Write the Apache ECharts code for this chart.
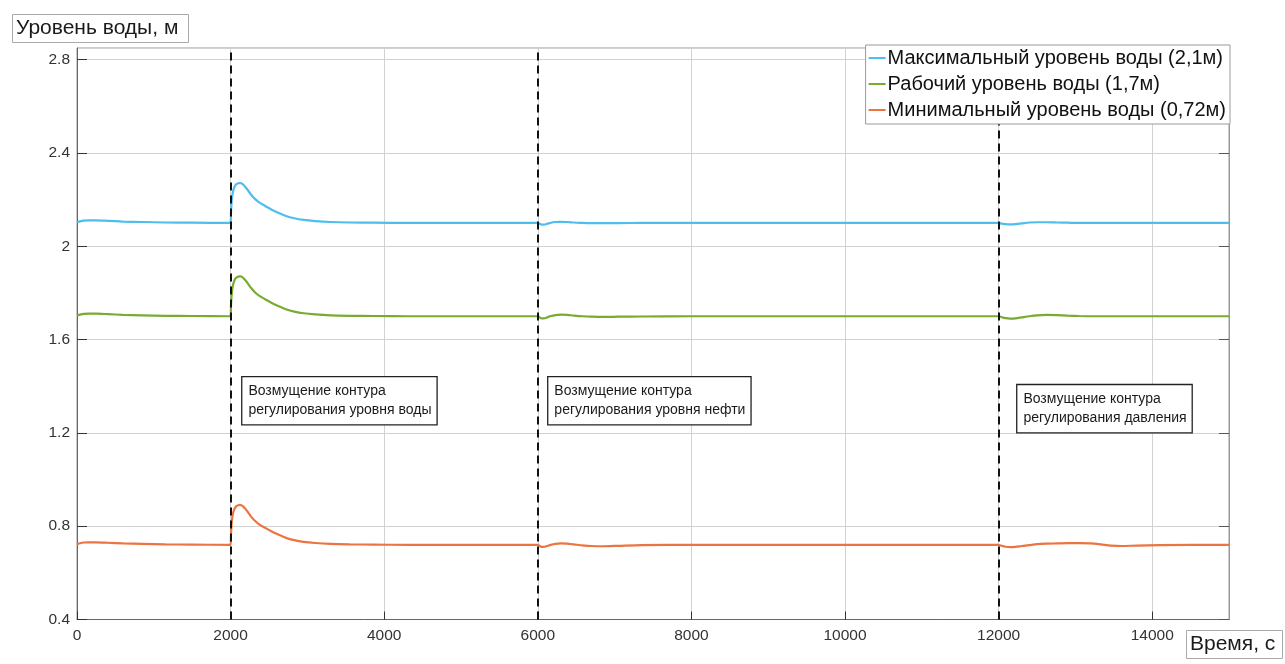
<!DOCTYPE html>
<html>
<head>
<meta charset="utf-8">
<script src="https://cdn.jsdelivr.net/npm/echarts@6/dist/echarts.min.js"></script>
<style>
  html, body { margin: 0; padding: 0; background: #fff; }
  #chart { width: 1285px; height: 664px; }
</style>
</head>
<body>
<div id="chart"></div>
<script>
// Time, s
const timeSec = [0, 40, 90, 150, 250, 400, 600, 850, 1150, 1500,
  2000, 2005, 2012, 2020, 2030, 2045, 2060, 2080, 2100, 2120, 2140, 2165, 2195, 2230, 2270, 2320, 2380, 2450, 2530, 2620, 2720, 2830, 2950, 3100, 3300, 3550, 3850, 4300,
  6000, 6025, 6050, 6080, 6120, 6170, 6230, 6300, 6380, 6470, 6580, 6700, 6850, 7050, 7350, 8000,
  10000,
  12000, 12040, 12090, 12150, 12220, 12300, 12400, 12500, 12620, 12760, 12900, 13050, 13200, 13330, 13460, 13600, 13800, 14100, 15000];

// Water level, m
const maxLevel = [2.103, 2.107, 2.110, 2.111, 2.111, 2.109, 2.106, 2.104, 2.102, 2.101,
  2.100, 2.145, 2.185, 2.212, 2.232, 2.250, 2.260, 2.267, 2.270, 2.271, 2.270, 2.264, 2.253, 2.238, 2.220, 2.202, 2.186, 2.173, 2.158, 2.144, 2.130, 2.120, 2.113, 2.108, 2.104, 2.102, 2.101, 2.100,
  2.100, 2.096, 2.093, 2.093, 2.096, 2.101, 2.104, 2.105, 2.104, 2.102, 2.100, 2.099, 2.099, 2.0995, 2.100, 2.100,
  2.100,
  2.100, 2.097, 2.095, 2.094, 2.095, 2.098, 2.102, 2.103, 2.103, 2.102, 2.101, 2.100, 2.100, 2.100, 2.100, 2.100, 2.100, 2.100, 2.100];
const workLevel = [1.703, 1.707, 1.710, 1.711, 1.711, 1.709, 1.706, 1.704, 1.702, 1.701,
  1.700, 1.745, 1.785, 1.812, 1.832, 1.850, 1.860, 1.867, 1.870, 1.871, 1.870, 1.864, 1.853, 1.838, 1.820, 1.802, 1.786, 1.773, 1.758, 1.744, 1.730, 1.720, 1.713, 1.708, 1.704, 1.702, 1.701, 1.700,
  1.700, 1.695, 1.691, 1.691, 1.695, 1.701, 1.705, 1.707, 1.706, 1.703, 1.700, 1.698, 1.697, 1.698, 1.699, 1.700,
  1.700,
  1.700, 1.696, 1.692, 1.690, 1.691, 1.695, 1.700, 1.704, 1.706, 1.705, 1.703, 1.701, 1.700, 1.700, 1.700, 1.700, 1.700, 1.700, 1.700];
const minLevel = [0.723, 0.727, 0.730, 0.731, 0.731, 0.729, 0.726, 0.724, 0.722, 0.721,
  0.720, 0.765, 0.805, 0.832, 0.852, 0.870, 0.880, 0.887, 0.890, 0.891, 0.890, 0.884, 0.873, 0.858, 0.840, 0.822, 0.806, 0.793, 0.778, 0.764, 0.750, 0.740, 0.733, 0.728, 0.724, 0.722, 0.721, 0.720,
  0.720, 0.715, 0.711, 0.711, 0.715, 0.720, 0.724, 0.726, 0.725, 0.722, 0.718, 0.715, 0.714, 0.716, 0.719, 0.720,
  0.720,
  0.720, 0.716, 0.712, 0.710, 0.711, 0.715, 0.719, 0.723, 0.725, 0.726, 0.727, 0.727, 0.726, 0.722, 0.717, 0.715, 0.717, 0.719, 0.720];

const seriesNames = ['Максимальный уровень воды (2,1м)', 'Рабочий уровень воды (1,7м)', 'Минимальный уровень воды (0,72м)'];
const seriesColors = ['#4DBEEE', '#77AC30', '#EC7440'];

// Disturbance moments, s
const disturbTimes = [2000, 6000, 12000];
const disturbTexts = [
  'Возмущение контура\nрегулирования уровня воды',
  'Возмущение контура\nрегулирования уровня нефти',
  'Возмущение контура\nрегулирования давления'
];
// Anchor of each note box (left edge time, vertical centre level)
const noteAnchors = [[2147, 1.338], [6131, 1.338], [12238, 1.304]];

const xTicks = [0, 2000, 4000, 6000, 8000, 10000, 12000, 14000];
const yTicks = [0.4, 0.8, 1.2, 1.6, 2, 2.4, 2.8];

const FONT = 'Liberation Sans, Arial, sans-serif';

function pairs(values) {
  return timeSec.map((t, i) => [t, values[i]]);
}

const levelData = [maxLevel, workLevel, minLevel];

const series = levelData.map((vals, i) => ({
  name: seriesNames[i],
  type: 'line',
  data: pairs(vals),
  showSymbol: false,
  smooth: 0.25,
  lineStyle: { color: seriesColors[i], width: 2.2 },
  itemStyle: { color: seriesColors[i] },
  z: 3
}));

// Dashed disturbance markers and note boxes
series.push({
  name: 'notes',
  type: 'line',
  data: [],
  silent: true,
  z: 2,
  markLine: {
    silent: true,
    symbol: 'none',
    label: { show: false },
    lineStyle: { color: '#111', width: 2, type: [8, 5] },
    data: disturbTimes.map(t => ({ xAxis: t }))
  },
  markPoint: {
    silent: true,
    symbol: 'circle',
    symbolSize: 1,
    itemStyle: { color: 'rgba(0,0,0,0)' },
    data: noteAnchors.map((c, i) => ({
      coord: c,
      label: {
        show: true,
        position: 'right',
        distance: 0,
        formatter: disturbTexts[i],
        fontFamily: FONT,
        fontSize: 14,
        lineHeight: 19,
        color: '#1a1a1a',
        backgroundColor: '#fff',
        borderColor: '#222',
        borderWidth: 1.3,
        padding: [5, 5, 4, 6]
      }
    }))
  }
});

const chart = echarts.init(document.getElementById('chart'), null, { renderer: 'canvas' });

chart.setOption({
  animation: false,
  backgroundColor: '#fff',
  title: [
    {
      text: 'Уровень воды, м',
      left: 12, top: 14,
      padding: [4, 10, 4, 4],
      borderColor: '#aaa', borderWidth: 1, backgroundColor: '#fff',
      textStyle: { fontFamily: FONT, fontSize: 21, fontWeight: 'normal', color: '#1a1a1a' }
    },
    {
      text: 'Время, с',
      left: 1186, top: 630,
      padding: [4, 7, 4, 4],
      borderColor: '#aaa', borderWidth: 1, backgroundColor: '#fff',
      textStyle: { fontFamily: FONT, fontSize: 21, fontWeight: 'normal', color: '#1a1a1a' }
    }
  ],
  legend: {
    data: seriesNames.map(n => ({ name: n, icon: 'rect' })),
    orient: 'vertical',
    right: 55, top: 45,
    z: 10,
    itemWidth: 17, itemHeight: 2,
    itemGap: 6,
    padding: [3, 4, 4, 3],
    borderColor: '#999', borderWidth: 1, backgroundColor: '#fff',
    textStyle: { fontFamily: FONT, fontSize: 20, color: '#111', padding: [0, 0, 0, -3] }
  },
  grid: {
    left: 77, right: 56, top: 48, bottom: 44.5,
    show: true, borderColor: '#999', borderWidth: 1
  },
  xAxis: {
    type: 'value',
    min: 0, max: 15000, interval: 2000,
    axisLine: { show: true, lineStyle: { color: '#666', width: 1 } },
    axisTick: { show: true, inside: true, length: 8, lineStyle: { color: '#333' } },
    axisLabel: {
      showMaxLabel: false,
      margin: 8,
      fontFamily: FONT, fontSize: 15.5, color: '#333',
      formatter: v => (xTicks.includes(v) ? String(v) : '')
    },
    splitLine: { show: true, lineStyle: { color: '#d2d2d2', width: 1 } }
  },
  yAxis: [
    {
      type: 'value',
      min: 0.4, max: 2.85, interval: 0.4,
      axisLine: { show: true, lineStyle: { color: '#666', width: 1 } },
      axisTick: { show: true, inside: true, length: 10, lineStyle: { color: '#333' } },
      axisLabel: {
        showMaxLabel: false,
        margin: 7,
        fontFamily: FONT, fontSize: 15.5, color: '#333',
        formatter: v => {
          const r = Math.round(v * 10) / 10;
          return yTicks.includes(r) ? String(r) : '';
        }
      },
      splitLine: { show: true, lineStyle: { color: '#d2d2d2', width: 1 } }
    },
    {
      type: 'value',
      position: 'right',
      min: 0.4, max: 2.85, interval: 0.4,
      axisLine: { show: true, lineStyle: { color: '#999', width: 1 } },
      axisTick: { show: true, inside: true, length: 10, lineStyle: { color: '#555' } },
      axisLabel: { show: false },
      splitLine: { show: false }
    }
  ],
  series: series
});
</script>
</body>
</html>
